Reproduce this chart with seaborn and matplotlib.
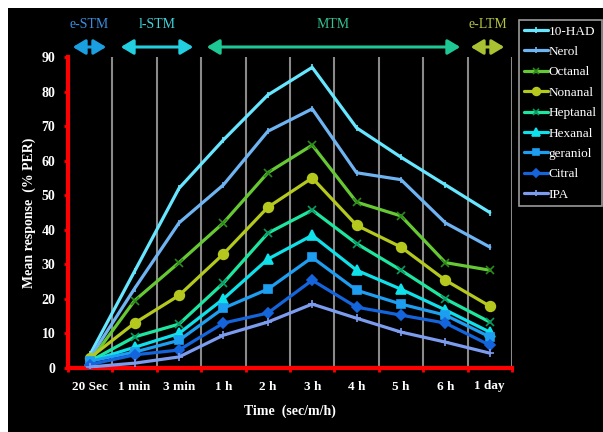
import matplotlib
matplotlib.use("Agg")
import matplotlib.pyplot as plt
from matplotlib.patches import Rectangle, FancyArrowPatch
import seaborn as sns
import pandas as pd
import numpy as np

categories = ["20 Sec", "1 min", "3 min", "1 h", "2 h", "3 h", "4 h", "5 h", "6 h", "1 day"]
had10 =    [4, 28, 52, 66, 79, 87, 69.5, 61, 53, 45]
nerol =    [3, 23, 42, 53, 68.5, 75, 56.5, 54.5, 42, 35]
octanal =  [2, 19.5, 30.5, 42, 56.5, 64.5, 48, 44, 30.5, 28.3]
nonanal =  [3, 13, 21, 33, 46.5, 55, 41.3, 35, 25.4, 17.9]
heptanal = [2, 9, 12.7, 24.6, 39, 45.7, 36, 28.3, 20, 13.3]
hexanal =  [2, 6, 10, 20, 31.5, 38.4, 28.3, 22.8, 16.8, 10.4]
geraniol = [2, 4.6, 8, 17.3, 22.8, 32, 22.5, 18.5, 15.3, 9]
citral =   [1, 3.8, 5.2, 13, 15.9, 25.4, 17.6, 15.3, 13, 6.6]
ipa =      [0.3, 1.4, 3.2, 9.5, 13.3, 18.5, 14.4, 10.4, 7.5, 4.3]

series_names = ["10-HAD", "Nerol", "Octanal", "Nonanal", "Heptanal", "Hexanal", "geraniol", "Citral", "IPA"]
series_values = [had10, nerol, octanal, nonanal, heptanal, hexanal, geraniol, citral, ipa]
colors = ["#66e6ff", "#6fb4f2", "#66c832", "#b4c81e", "#1ee6a0", "#10e0ea", "#1e9ef0", "#1464dc", "#7c9cf0"]
markers = ["|", "|", "x", "o", "x", "^", "s", "D", "+"]
msizes = [5, 5, 6, 7, 6, 7, 6, 5, 6]
medge = [None, None, "#2a8a1a", None, "#0a9a60", None, None, None, None]

rows = []
for name, vals in zip(series_names, series_values):
    for i, (c, v) in enumerate(zip(categories, vals)):
        rows.append({"series": name, "pos": i, "time": c, "value": v})
df = pd.DataFrame(rows)

sns.set_theme(style="dark")
plt.rcParams["font.family"] = ["Liberation Serif", "DejaVu Serif"]

fig = plt.figure(figsize=(6.03, 4.32), dpi=100, facecolor="white")
fig.patches.append(Rectangle((8 / 603, 0), 1, (432 - 8) / 432, transform=fig.transFigure,
                             facecolor="black", edgecolor="none", zorder=-10))
ax = fig.add_axes([68 / 603, (432 - 368) / 432, (512 - 68) / 603, (368 - 57) / 432])
ax.set_facecolor("black")

for name, col, mk, ms, me in zip(series_names, colors, markers, msizes, medge):
    sub = df[df["series"] == name]
    sns.lineplot(data=sub, x="pos", y="value", ax=ax, color=col, linewidth=2.3,
                 marker=mk, markersize=ms, markeredgecolor=(me if me else col),
                 markeredgewidth=1.2, label=name, zorder=3)

ax.set_xlim(-0.5, 9.5)
ax.set_ylim(0, 90)
ax.set_yticks(np.arange(0, 91, 10))
ax.set_xticks(range(len(categories)))
ax.set_xticklabels(categories)
ax.set_xticks(np.arange(-0.5, 9.6, 1), minor=True)
ax.grid(False)
for b in np.arange(0.5, 9.6, 1):
    ax.axvline(b, color="#8a8a8a", linewidth=1.5, zorder=1)

for s in ["left", "bottom"]:
    ax.spines[s].set_color("#ff0000")
    ax.spines[s].set_linewidth(3)
    ax.spines[s].set_visible(True)
for s in ["top", "right"]:
    ax.spines[s].set_visible(False)

ax.tick_params(axis="y", which="major", colors="#ff0000", direction="out", length=3, width=2,
               labelcolor="white", labelsize=10, pad=6, left=True)
ax.tick_params(axis="x", which="major", length=0, labelcolor="white", labelsize=9.5, pad=9)
ax.tick_params(axis="x", which="minor", colors="#ff0000", direction="out", length=3, width=2, bottom=True)
for lab in ax.get_yticklabels():
    lab.set_fontweight("bold")
for lab in ax.get_xticklabels():
    lab.set_fontweight("semibold")

ax.set_xlabel("Time  (sec/m/h)", color="white", fontsize=10, fontweight="bold", labelpad=9)
ax.set_ylabel("Mean response  (% PER)", color="white", fontsize=10, fontweight="bold", labelpad=4)

leg = ax.legend(loc="upper left", bbox_to_anchor=(519 / 603, (432 - 20) / 432),
                bbox_transform=fig.transFigure, borderaxespad=0, frameon=True,
                facecolor="black", edgecolor="#9a9a9a", fontsize=9.5, labelspacing=0.62,
                handlelength=1.8, handletextpad=0.05, borderpad=0.4, fancybox=False,
                markerscale=0.8)
leg.get_frame().set_linewidth(1.2)
for t in leg.get_texts():
    t.set_color("white")
leg.get_frame().set_alpha(1)

# phase annotations above the axes
def px_to_fig(x, y):
    return (x / 603, (432 - y) / 432)

phases = [
    ("e-STM", 70, 109, "#1a9fe0", "#3a8ee0"),
    ("l-STM", 118, 196, "#22cfe0", "#40d4dc"),
    ("MTM", 204, 463, "#1ec894", "#36c294"),
    ("e-LTM", 468, 507, "#a8c232", "#b4c440"),
]
for txt, x0, x1, acol, tcol in phases:
    arr = FancyArrowPatch(px_to_fig(x0, 47), px_to_fig(x1, 47), transform=fig.transFigure,
                          arrowstyle="<|-|>,head_length=5,head_width=3", color=acol,
                          linewidth=2.2, mutation_scale=1.5)
    fig.patches.append(arr)
    cx = (x0 + x1) / 2 if txt != "MTM" else 333
    fig.text(*px_to_fig(cx, 25), txt, color=tcol, fontsize=10,
             ha="center", va="center")

fig.savefig("out.png", dpi=100, facecolor=fig.get_facecolor())
